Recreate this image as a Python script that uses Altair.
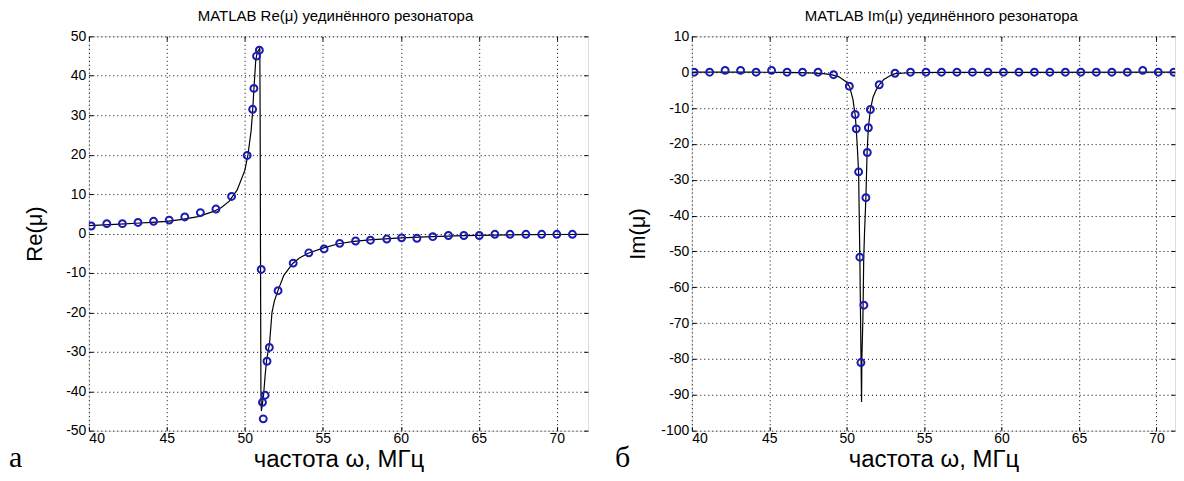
import altair as alt
import pandas as pd

# ---------------- data ----------------
re_pt_x = [40.15, 41.15, 42.15, 43.15, 44.15, 45.15, 46.15, 47.15, 48.15, 49.15, 50.15,
           50.5, 50.58, 50.75, 50.93, 51.05, 51.13, 51.18, 51.3, 51.42, 51.57, 52.13,
           53.1, 54.1, 55.08, 56.08, 57.1, 58.05, 59.1, 60.05, 61.03, 62.05, 63.05,
           64.04, 65.03, 66.03, 67.0, 68.02, 69.03, 70.0, 71.0]
re_pt_y = [1.9, 2.5, 2.5, 2.8, 3.1, 3.4, 4.2, 5.3, 6.2, 9.4, 19.8,
           31.5, 36.8, 45.0, 46.5, -9.1, -42.8, -47.0, -41.0, -32.4, -28.9, -14.5,
           -7.5, -4.9, -3.9, -2.5, -1.9, -1.7, -1.4, -1.1, -1.2, -0.8, -0.5,
           -0.5, -0.5, -0.2, -0.2, -0.2, -0.2, -0.2, -0.2]

re_line_x = [40, 41, 42, 43, 44, 45, 46, 47, 48, 48.5, 49, 49.5, 50, 50.2, 50.4, 50.5,
             50.58, 50.7, 50.8, 50.96, 50.98, 51.0, 51.03, 51.06, 51.1, 51.2, 51.3, 51.4,
             51.58, 51.74, 51.9, 52.14, 52.5, 53.07, 53.5, 54.06, 55, 56, 57, 58, 60,
             62, 64, 66, 68, 70, 72]
re_line_y = [2.0, 2.2, 2.4, 2.6, 2.8, 3.1, 3.6, 4.3, 5.6, 6.6, 8.2, 11, 16, 20, 26, 31,
             36.5, 44, 46, 47, 30, 0, -40, -45, -44, -41, -36, -32,
             -28, -20, -17, -14.3, -10.6, -7.6, -6.2, -5.0, -3.7, -2.6, -2.0, -1.6, -1.1,
             -0.8, -0.55, -0.4, -0.3, -0.25, -0.2]

im_pt_x = [40.15, 41.15, 42.15, 43.15, 44.15, 45.15, 46.15, 47.15, 48.15, 49.15, 50.17,
           50.55, 50.62, 50.77, 50.85, 50.92, 51.11, 51.24, 51.33, 51.4, 51.53, 52.1,
           53.12, 54.12, 55.12, 56.12, 57.12, 58.12, 59.12, 60.12, 61.12, 62.12, 63.12,
           64.12, 65.12, 66.12, 67.12, 68.12, 69.12, 70.12, 71.12]
im_pt_y = [0, 0, 0.5, 0.5, 0, 0.5, 0, 0, 0, -0.7, -3.9,
           -11.8, -15.8, -27.8, -51.6, -81, -65, -35, -22.4, -15.5, -10.4, -3.5,
           -0.3, 0, 0, 0, 0, 0, 0, 0, 0, 0, 0,
           0, 0, 0, 0, 0, 0.5, 0, 0]

im_line_x = [40, 44, 46, 47, 48, 48.5, 49, 49.5, 50, 50.2, 50.4, 50.5, 50.55, 50.62,
             50.7, 50.77, 50.85, 50.92, 50.96, 50.98, 51.05, 51.1, 51.15, 51.24, 51.32,
             51.4, 51.53, 51.7, 51.9, 52.1, 52.4, 52.8, 53.12, 54, 56, 72]
im_line_y = [0, 0, -0.05, -0.1, -0.25, -0.4, -0.7, -1.3, -2.8, -4.2, -7.5, -10.5, -12,
             -16, -22, -28, -52, -78, -92, -80, -68, -52, -45, -35, -22,
             -15.5, -10.4, -7, -5, -3.5, -2, -1, -0.4, -0.15, -0.05, 0]

x_ticks = [40, 45, 50, 55, 60, 65, 70]
re_ticks = [-50, -40, -30, -20, -10, 0, 10, 20, 30, 40, 50]
im_ticks = [-100, -90, -80, -70, -60, -50, -40, -30, -20, -10, 0, 10]

FONT = "Liberation Sans, Arial"
TFONT = "Liberation Sans, Arial"
BLUE = "#1a1ab4"
PLOT_H = 395


def panel(line_x, line_y, pt_x, pt_y, xmax, ydom, yticks, ytitle, title, title_dx,
          letter, letter_x, width):
    line_df = pd.DataFrame({"f": line_x, "v": line_y, "i": list(range(len(line_x)))})
    pt_df = pd.DataFrame({"f": pt_x, "v": pt_y})
    xs = alt.Scale(domain=[40, xmax], nice=False, zero=False)
    ys = alt.Scale(domain=ydom, nice=False, zero=False)
    main_axis = dict(labelFont=FONT, labelFontSize=14, labelColor="black",
                     labelExpr="replace(datum.label, '\u2212', '-')",
                     titleFont=TFONT, titleColor="black",
                     titleFontWeight="normal", grid=True, gridColor="black",
                     gridDash=[1, 3], gridOpacity=1, gridWidth=1, domain=False,
                     ticks=True, tickColor="black", tickSize=4, offset=-4,
                     minExtent=0)
    tick_axis = dict(labels=False, grid=False, domain=False, ticks=True,
                     tickColor="black", tickSize=4, offset=-4, title=None,
                     minExtent=0, maxExtent=0)
    line = alt.Chart(line_df).mark_line(color="black", strokeWidth=1.2, clip=True).encode(
        x=alt.X("f:Q", scale=xs,
                axis=alt.Axis(values=x_ticks, title="частота ω, МГц", orient="bottom",
                              labelPadding=1, titlePadding=2, titleFontSize=24,
                              **main_axis)),
        y=alt.Y("v:Q", scale=ys,
                axis=alt.Axis(values=yticks, title=ytitle, orient="left",
                              labelPadding=3, titleX=-46, titleFontSize=22,
                              **main_axis)),
        order="i:Q",
    )
    pts = alt.Chart(pt_df).mark_point(
        shape="circle", filled=False, color=BLUE, size=48, strokeWidth=2, opacity=1, clip=True
    ).encode(
        x=alt.X("f:Q", scale=xs, axis=alt.Axis(values=x_ticks, orient="top", **tick_axis)),
        y=alt.Y("v:Q", scale=ys, axis=alt.Axis(values=yticks, orient="right", **tick_axis)),
    )
    lab = alt.Chart(pd.DataFrame({"t": [letter]})).mark_text(
        font="Liberation Serif, DejaVu Serif", fontSize=30, align="left",
        baseline="alphabetic", color="black"
    ).encode(x=alt.value(letter_x), y=alt.value(PLOT_H + 36), text="t:N")
    return alt.layer(line, pts, lab).resolve_axis(
        x="independent", y="independent"
    ).properties(
        width=width, height=PLOT_H,
        title=alt.TitleParams(title, font=FONT, fontSize=15, fontWeight="normal",
                              color="black", offset=5, anchor="middle", dx=title_dx),
    )


left = panel(re_line_x, re_line_y, re_pt_x, re_pt_y, 72, [-50, 50], re_ticks, "Re(μ)",
             "MATLAB Re(μ) уединённого резонатора", -3, "а", -80, 500)
right = panel(im_line_x, im_line_y, im_pt_x, im_pt_y, 71.2, [-100, 10], im_ticks, "Im(μ)",
              "MATLAB Im(μ) уединённого резонатора", 8, "б", -77, 484)

chart = alt.hconcat(left, right, spacing=104, bounds="flush").properties(
    padding=0
).configure_view(stroke="black", strokeWidth=1).configure(background="white")

chart.save("out.html", embed_options={"renderer": "svg", "actions": False})
